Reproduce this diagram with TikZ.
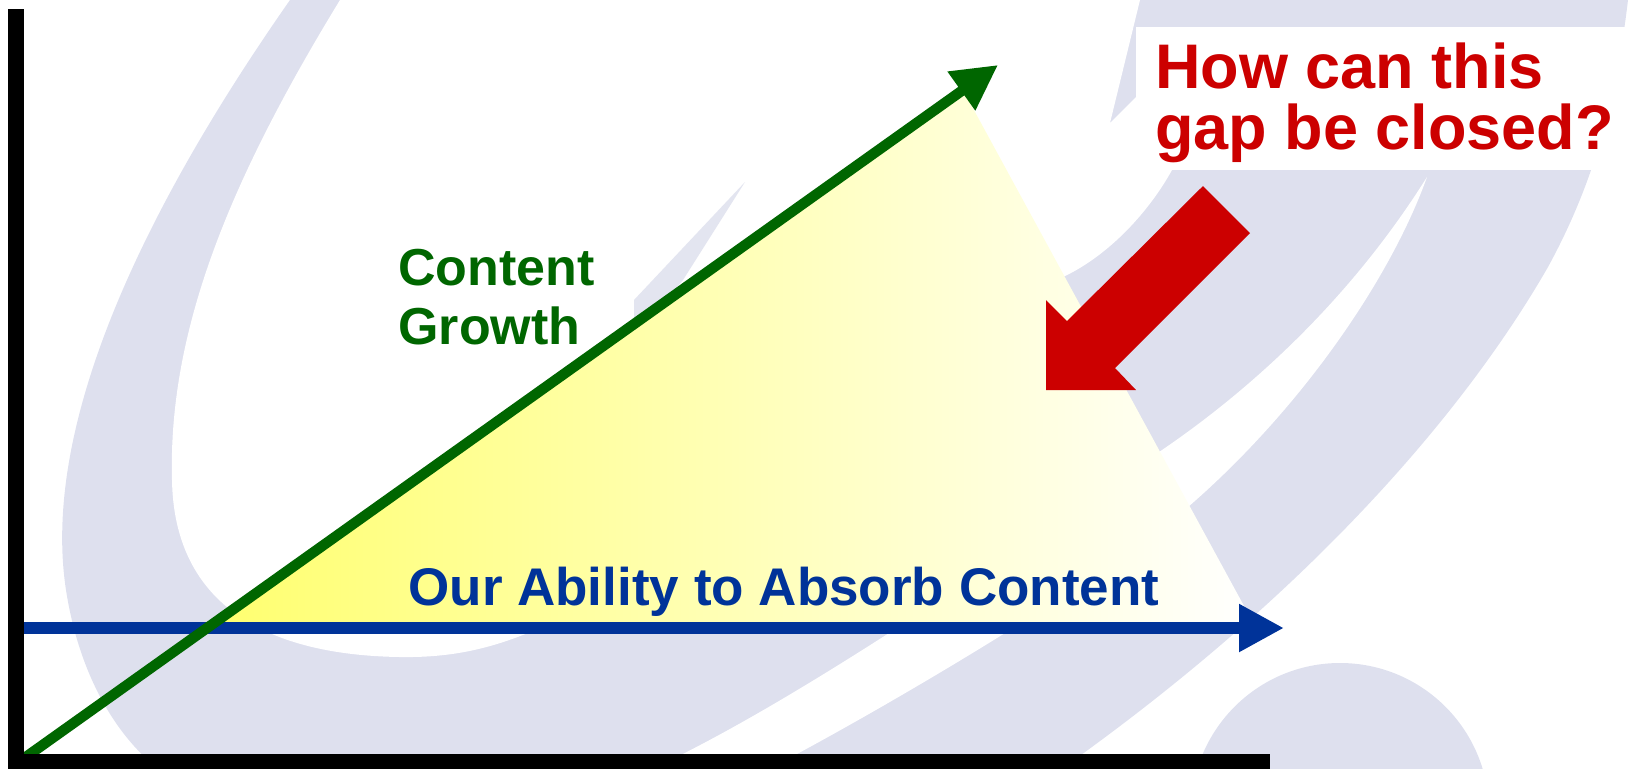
\documentclass[tikz,border=0pt]{standalone}
\usepackage{fontspec}
\setmainfont{Liberation Sans}
\usepackage{tikz}
\usetikzlibrary{arrows.meta}
\definecolor{logo-lilac}{RGB}{222,224,238}
\definecolor{growth-green}{RGB}{0,102,0}
\definecolor{absorb-blue}{RGB}{0,51,153}
\definecolor{gap-red}{RGB}{204,0,0}
\definecolor{gap-yellow}{RGB}{255,255,110}

\begin{document}
\begin{tikzpicture}[x=0.5pt, y=-0.5pt,
  growthlbl/.style={text=growth-green, font=\fontsize{26pt}{30pt}\selectfont\bfseries, inner sep=0pt, anchor=base west},
  ablelbl/.style={text=absorb-blue, font=\fontsize{26.5pt}{31pt}\selectfont\bfseries, inner sep=0pt, anchor=base west},
  gaplbl/.style={text=gap-red, font=\fontsize{31.5pt}{36pt}\selectfont\bfseries, inner sep=0pt, anchor=base west},
  axisline/.style={black, line width=8pt},
  tip/.style={-{Triangle[length=22.5pt, width=22.5pt]}}]%content gap
\useasboundingbox (0,0) rectangle (1635,768);
\clip (0,0) rectangle (1635,768);
% logo in the background
\fill[logo-lilac] (290,0) .. controls (150,200) and (40,420) .. (66,590)
  .. controls (80,680) and (120,740) .. (160,770) -- (1060,770)
  .. controls (1300,600) and (1460,420) .. (1548,267)
  .. controls (1590,190) and (1615,110) .. (1628,0) -- cycle;
\fill[white] (340,0) .. controls (230,180) and (168,330) .. (172,480)
  .. controls (174,600) and (260,655) .. (400,657)
  .. controls (460,658) and (500,645) .. (540,628)
  -- (750,480) -- (960,340) -- (1063,277)
  .. controls (1110,255) and (1150,210) .. (1172,170)
  -- (1190,120) -- (1136,97) -- (1110,123) -- (1140,0) -- cycle;
\fill[white] (1427,177) .. controls (1350,300) and (1250,390) .. (1162,450)
  .. controls (1000,560) and (800,700) .. (650,770) -- (767,770)
  .. controls (900,700) and (1100,580) .. (1188,507)
  .. controls (1300,410) and (1390,280) .. (1427,177) -- cycle;
\fill[logo-lilac!85] (745,182) -- (683,280) -- (640,330) -- (634,330) -- (634,300) -- cycle;
\fill[logo-lilac] (1340,812) circle [radius=149];

\coordinate (yTop) at (16,9);
\coordinate (origin) at (16,762);
\coordinate (xEnd) at (1270,762);
\coordinate (growStart) at (16,764);
\coordinate (growTip) at (998,65);
\coordinate (ableStart) at (16,628);
\coordinate (ableTip) at (1284,628);
\coordinate (gapL) at (207,628);
\coordinate (gapT) at (963,90);
\coordinate (gapR) at (1256,628);

\shade[left color=gap-yellow, right color=white] (gapL) -- (gapT) -- (gapR) -- cycle;
\draw[absorb-blue, line width=6pt, tip] (ableStart) -- (ableTip);
\draw[growth-green, line width=5.2pt, tip] (growStart) -- (growTip);
\draw[axisline] (yTop) -- (origin) -- (xEnd);

% arrow pointing into the gap
\fill[gap-red] (1203,186) -- (1250,233) -- (1115,368) -- (1136,390) -- (1046,390) -- (1046,300) -- (1067,321) -- cycle;
\fill[white] (1136,27) rectangle (1635,170);

\node[gaplbl] (howq) at (1155,88) {How can this};
\node[gaplbl] (gapq) at (1155,149) {gap be closed?};
\node[growthlbl] (content) at (398,285) {Content};
\node[growthlbl] (growth) at (398,344) {Growth};
\node[ablelbl] (ability) at (408,605) {Our Ability to Absorb Content};
\end{tikzpicture}
\end{document}
